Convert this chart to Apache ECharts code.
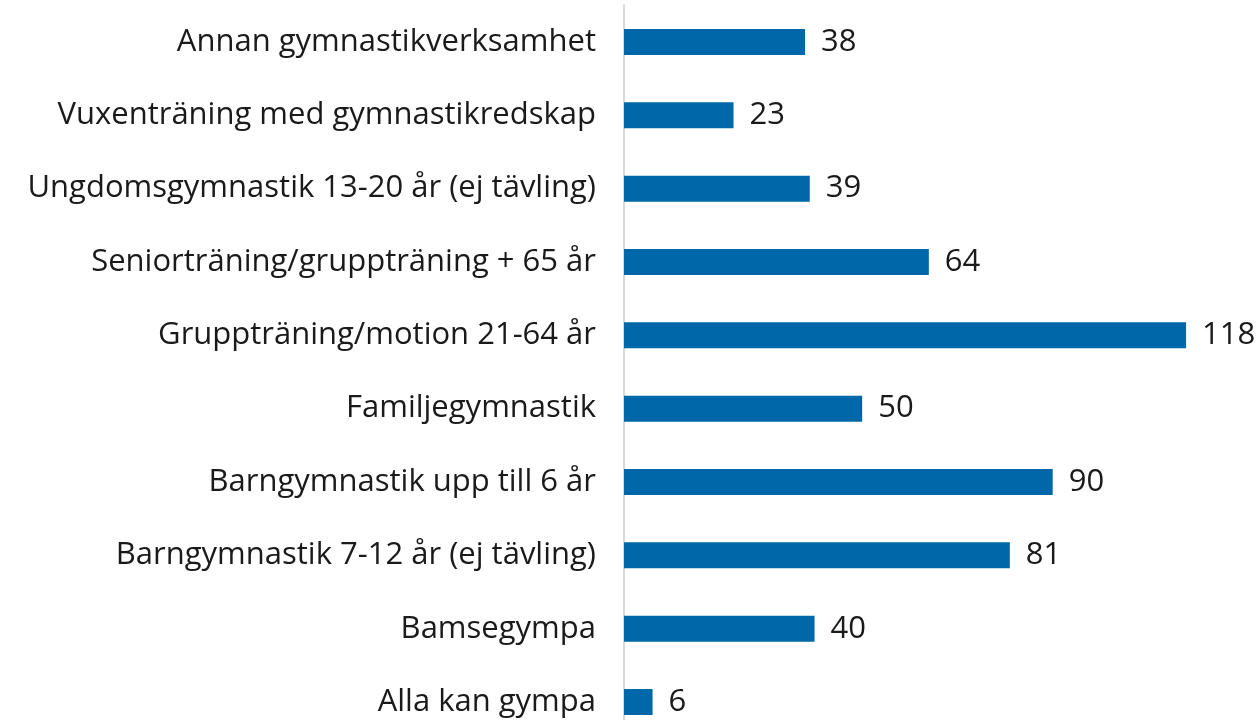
<!DOCTYPE html>
<html>
<head>
<meta charset="utf-8">
<title>Gymnastikverksamhet</title>
<script src="https://cdn.jsdelivr.net/npm/echarts@6/dist/echarts.min.js"></script>
<style>
html, body { margin: 0; padding: 0; background: #fff; }
#chart { width: 1258px; height: 720px; }
</style>
</head>
<body>
<div id="chart"></div>
<script>
// kategorier uppifrån och ned
var kategorier = [
	'Annan gymnastikverksamhet',
	'Vuxenträning med gymnastikredskap',
	'Ungdomsgymnastik 13-20 år (ej tävling)',
	'Seniorträning/gruppträning + 65 år',
	'Gruppträning/motion 21-64 år',
	'Familjegymnastik',
	'Barngymnastik upp till 6 år',
	'Barngymnastik 7-12 år (ej tävling)',
	'Bamsegympa',
	'Alla kan gympa'
];
var antal = [38, 23, 39, 64, 118, 50, 90, 81, 40, 6];

var chart = echarts.init(document.getElementById('chart'));
chart.setOption({
	animation: false,
	grid: {
		left: 624,
		top: 5.3,
		width: 571.6,
		height: 733.4,
		outerBoundsMode: 'none',
		containLabel: false
	},
	xAxis: {
		type: 'value',
		min: 0,
		max: 120,
		show: false
	},
	yAxis: {
		type: 'category',
		inverse: true,
		data: kategorier,
		axisLine: { show: true, lineStyle: { color: '#d9d9d9', width: 2 } },
		axisTick: { show: false },
		axisLabel: {
			margin: 28,
			fontFamily: 'Open Sans',
			fontSize: 31,
			color: '#1a1a1a'
		}
	},
	series: [{
		type: 'bar',
		data: antal,
		barWidth: 26,
		itemStyle: { color: '#0068a8' },
		label: {
			show: true,
			position: 'right',
			distance: 16,
			fontFamily: 'Open Sans',
			fontSize: 31,
			color: '#1a1a1a'
		}
	}]
});
</script>
</body>
</html>
